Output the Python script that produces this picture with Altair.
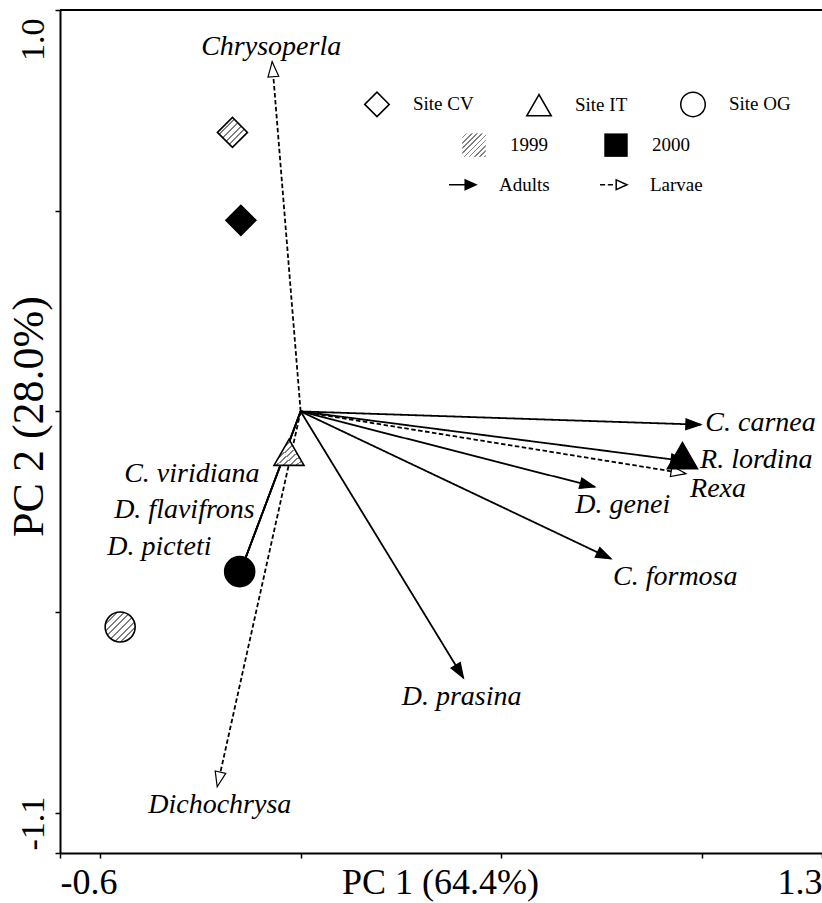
import altair as alt
import pandas as pd

SERIF = "Liberation Serif"

# Axis limits of the biplot
X_MIN, X_MAX = -0.6, 1.3
Y_MIN, Y_MAX = -1.1, 1.0

# Species loading vectors (arrow tips) on PC1 / PC2
species = ["C. carnea", "R. lordina", "Rexa", "D. genei", "C. formosa", "D. prasina",
           "C. viridiana", "D. flavifrons", "D. picteti", "Chrysoperla", "Dichochrysa"]
stage = ["Adults", "Adults", "Larvae", "Adults", "Adults", "Adults",
         "Adults", "Adults", "Adults", "Larvae", "Larvae"]
load_pc1 = [0.998, 0.961, 0.961, 0.734, 0.774, 0.406, -0.158, -0.158, -0.158, -0.071, -0.208]
load_pc2 = [-0.033, -0.124, -0.155, -0.188, -0.367, -0.664, -0.420, -0.420, -0.420, 0.871, -0.935]

# Where each species name is written (PC1 / PC2 units)
label_pc1 = [1.009, 0.996, 0.971, 0.685, 0.779, 0.252, -0.440, -0.465, -0.482, -0.248, -0.380]
label_pc2 = [-0.048, -0.140, -0.213, -0.252, -0.432, -0.732, -0.175, -0.265, -0.357, 0.888, -1.000]

# Site-by-year scores
site = ["CV", "CV", "IT", "IT", "OG", "OG"]
year = ["1999", "2000", "1999", "2000", "1999", "2000"]
score_pc1 = [-0.170, -0.149, -0.029, 0.952, -0.450, -0.152]
score_pc2 = [0.695, 0.476, -0.102, -0.110, -0.537, -0.399]

site_codes = ["CV", "IT", "OG"]
site_shapes = ["diamond", "triangle-up", "circle"]
years = ["1999", "2000"]
stages = ["Adults", "Larvae"]

loadings = pd.DataFrame({
    "species": species, "stage": stage, "pc1": load_pc1, "pc2": load_pc2,
    "lx": label_pc1, "ly": label_pc2,
})
scores = pd.DataFrame({"site": site, "year": year, "pc1": score_pc1, "pc2": score_pc2})
frame = pd.DataFrame({"edge": [Y_MAX]})


def hatch(n, frac=0.32, line="#7f7f7f"):
    """Diagonal '////' hatching built from a hard-stop linear gradient."""
    stops = []
    for k in range(n):
        a, b, c = k / n, (k + 1 - frac) / n, (k + 1) / n
        stops += [{"offset": a, "color": "white"}, {"offset": b, "color": "white"},
                  {"offset": b, "color": line}, {"offset": c, "color": line}]
    return {"gradient": "linear", "x1": 0, "y1": 0, "x2": 1, "y2": 1, "stops": stops}


hatch_param = alt.param(name="hatch", value=hatch(9))

# Arrow head with its tip at the symbol origin, pointing along +x
HEAD = "M0,0L-1,-0.36L-1,0.36Z"
# Legend keys: solid shaft + filled head, dashed shaft + open head
KEY_SOLID = "M-1,0L0.2,0M0.2,-0.36L1,0L0.2,0.36Z"
KEY_DASHED = "M-1,0L-0.62,0M-0.42,0L-0.04,0M0.2,-0.36L1,0L0.2,0.36Z"
IS_ADULT = "datum.value === 'Adults'"

xs = alt.Scale(domain=[X_MIN, X_MAX], nice=False, zero=False)
ys = alt.Scale(domain=[Y_MIN, Y_MAX], nice=False, zero=False)


def end_label_expr(lo, hi):
    return (f"abs(datum.value - ({lo})) < 1e-6 || abs(datum.value - ({hi})) < 1e-6"
            " ? replace(datum.label, '\u2212', '-') : ''")


x_axis = alt.Axis(
    values=[X_MIN, -0.5, 0.0, 0.5, 1.0, X_MAX], format=".1f",
    labelExpr=end_label_expr(X_MIN, X_MAX), labelFlush=True, labelOverlap=False,
    labelFont=SERIF, labelFontSize=36, labelColor="black",
    labelBaseline="alphabetic", labelPadding=35,
    tickSize=5, tickWidth=1.5, tickColor="black",
    domainColor="black", domainWidth=2, grid=False,
    title="PC 1 (64.4%)", titleFont=SERIF, titleFontSize=36, titleFontWeight="normal",
    titleColor="black", titleX=380, titleY=40, titleAlign="center",
    titleBaseline="alphabetic",
)
y_axis = alt.Axis(
    values=[Y_MIN, -1.0, -0.5, 0.0, 0.5, Y_MAX], format=".1f",
    labelExpr=end_label_expr(Y_MIN, Y_MAX), labelOverlap=False, labelFlush=False,
    labelAngle=270,
    labelAlign={"condition": {"test": "datum.value > 0", "value": "right"}, "value": "left"},
    labelOffset={"condition": {"test": "datum.value > 0", "value": 8}, "value": -3},
    labelFont=SERIF, labelFontSize=34, labelColor="black",
    labelBaseline="alphabetic", labelPadding=12,
    tickSize=5, tickWidth=1.5, tickColor="black",
    domainColor="black", domainWidth=2, grid=False,
    title="PC 2 (28.0%)", titleFont=SERIF, titleFontSize=44, titleFontWeight="normal",
    titleColor="black", titleAngle=270, titleX=-18, titleY=406, titleAlign="center",
    titleBaseline="alphabetic",
)


def X(field):
    return alt.X(field, type="quantitative", scale=xs, axis=x_axis)


def Y(field):
    return alt.Y(field, type="quantitative", scale=ys, axis=y_axis)


legend_text = dict(labelFont=SERIF, labelFontSize=19, labelColor="black",
                   title=None, orient="none", direction="horizontal", padding=0,
                   symbolOpacity=1)

site_legend = alt.Legend(
    legendX=304, legendY=81, labelExpr="'Site ' + datum.label",
    labelOffset=23, columnPadding=49, symbolSize=600,
    symbolStrokeWidth=1.5, symbolStrokeColor="black", symbolFillColor="white",
    **legend_text,
)
year_legend = alt.Legend(
    legendX=402, legendY=123, symbolType="square", symbolSize=550,
    labelOffset=24, columnPadding=56, symbolStrokeWidth=0,
    **legend_text,
)
stage_legend = alt.Legend(
    legendX=388, legendY=160,
    symbolType=alt.ExprRef(expr=f"{IS_ADULT} ? '{KEY_SOLID}' : '{KEY_DASHED}'"),
    symbolFillColor=alt.ExprRef(expr=f"{IS_ADULT} ? 'black' : 'white'"),
    symbolSize=729, symbolStrokeWidth=1.5, symbolStrokeColor="black",
    labelOffset=22, columnPadding=47,
    **legend_text,
)

# Top edge of the plotting frame
top_edge = alt.Chart(frame).mark_rule(color="black", strokeWidth=2).encode(y=Y("edge"))

# Arrow shafts from the origin to each loading
shafts = alt.Chart(loadings).transform_calculate(ox="0", oy="0").mark_rule(
    strokeWidth=1.8
).encode(
    x=X("ox"), y=Y("oy"), x2="pc1", y2="pc2",
    stroke=alt.Stroke("stage:N", scale=alt.Scale(domain=stages, range=["black", "black"]),
                      legend=stage_legend),
    strokeDash=alt.condition("datum.stage === 'Adults'",
                             alt.value([1, 0]), alt.value([4.5, 2.5])),
)

# Arrow heads rotated along each vector
heads = alt.Chart(loadings).transform_calculate(
    ang="(atan2(-datum.pc2, datum.pc1) * 180 / PI + 360) % 360"
).mark_point(shape=HEAD, size=900, filled=True, stroke="black", strokeWidth=1.2,
             opacity=1).encode(
    x=X("pc1"), y=Y("pc2"),
    angle=alt.Angle("ang:Q", scale=None),
    fill=alt.condition("datum.stage === 'Adults'", alt.value("black"), alt.value("white")),
)

# Site-year scores: shape by site, hatched (1999) or solid black (2000)
points = alt.Chart(scores).mark_point(
    filled=True, size=900, stroke="black", strokeWidth=1.6, opacity=1
).encode(
    x=X("pc1"), y=Y("pc2"),
    shape=alt.Shape("site:N", scale=alt.Scale(domain=site_codes, range=site_shapes),
                    legend=site_legend),
    fill=alt.Fill("year:N",
                  scale=alt.Scale(domain=years, range=[{"expr": "hatch"}, "black"]),
                  legend=year_legend),
)

# Species names
names = alt.Chart(loadings).mark_text(
    align="left", baseline="alphabetic", font=SERIF, fontStyle="italic",
    fontSize=28, color="black"
).encode(x=X("lx"), y=Y("ly"), text="species:N")

chart = alt.layer(top_edge, shafts, heads, points, names).add_params(
    hatch_param
).properties(
    width=762, height=843,
    autosize=alt.AutoSizeParams(type="none"),
    padding={"left": 60, "top": 10, "right": 0, "bottom": 50},
    background="white",
).configure_view(stroke=None)

chart.save("out.html", embed_options={"renderer": "svg", "actions": False})
